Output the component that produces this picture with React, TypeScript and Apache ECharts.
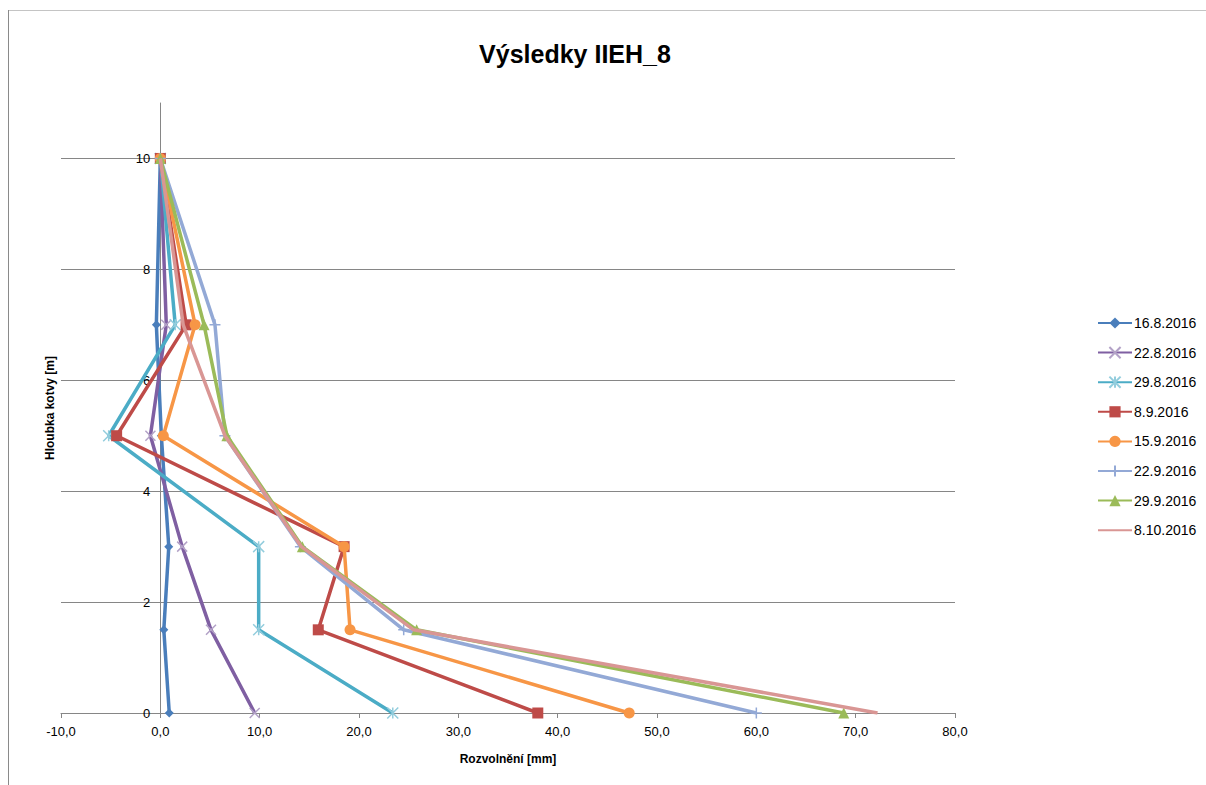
import React, { useEffect, useRef } from "react";
import * as echarts from "echarts";

const depths = [10, 7, 5, 3, 1.5, 0];
const seriesNames = ["16.8.2016", "22.8.2016", "29.8.2016", "8.9.2016", "15.9.2016", "22.9.2016", "29.9.2016", "8.10.2016"];
const s1608 = [0, -0.4, 0.1, 0.85, 0.35, 0.9];
const s2208 = [0, 0.6, -1.0, 2.2, 5.1, 9.5];
const s2908 = [0, 1.5, -5.2, 9.9, 9.9, 23.4];
const s0809 = [0, 2.6, -4.4, 18.5, 15.9, 38.0];
const s1509 = [0, 3.5, 0.3, 18.5, 19.1, 47.2];
const s2209 = [0, 5.5, 6.5, 14.1, 24.5, 60.0];
const s2909 = [0, 4.4, 6.7, 14.3, 25.8, 68.8];
const s0810 = [0, 2.3, 6.5, 14.2, 25.5, 72.2];
const allValues = [s1608, s2208, s2908, s0809, s1509, s2209, s2909, s0810];

const xMin = -10;
const xMax = 80;
const xTickStep = 10;
const yMin = 0;
const yMax = 11;
const yTickStep = 2;

const lineColors = ["#4A7EBB", "#7F5FA2", "#4BACC6", "#BE4B48", "#F79646", "#93A9D6", "#9BBB59", "#D99694"];
const markerColors = ["#4A7EBB", "#B3A2C7", "#93CDDD", "#BE4B48", "#F79646", "#93A9D6", "#9BBB59", "rgba(0,0,0,0)"];
const symbols = [
  "diamond",
  "path://M0,0L10,10M10,0L0,10",
  "path://M5,0L5,10M0,0L10,10M10,0L0,10",
  "rect",
  "circle",
  "path://M5,0L5,10M0,5L10,5",
  "triangle",
  "none",
];
const symbolSizes = [9, 10, 11, 11, 11, 11, 11, 0];
const strokeMarkers = [false, true, true, false, false, true, false, false];

const GRID_LEFT = 61;
const GRID_RIGHT = 251;
const WIDTH = 1206;

export default function App() {
  const ref = useRef<HTMLDivElement>(null);
  useEffect(() => {
    if (!ref.current) return;
    const chart = echarts.init(ref.current, null, { renderer: "svg" });
    const font = "Liberation Sans, Arial, sans-serif";
    const plotW = WIDTH - GRID_LEFT - GRID_RIGHT;
    const zeroOffset = ((0 - xMin) / (xMax - xMin)) * plotW;
    const series = seriesNames.map((name, i) => ({
      name,
      type: "line",
      data: allValues[i].map((v, j) => [v, depths[j]]),
      symbol: symbols[i],
      symbolSize: symbolSizes[i],
      showSymbol: symbols[i] !== "none",
      lineStyle: { color: lineColors[i], width: 3.5 },
      itemStyle: strokeMarkers[i]
        ? { color: "rgba(0,0,0,0)", borderColor: markerColors[i], borderWidth: 1.5 }
        : { color: markerColors[i], borderWidth: 0 },
      z: 2 + i,
    }));
    chart.setOption({
      animation: false,
      backgroundColor: "#ffffff",
      textStyle: { fontFamily: font },
      title: {
        text: "Výsledky IIEH_8",
        left: 575,
        top: 41,
        textAlign: "center",
        padding: 0,
        textStyle: { fontFamily: font, fontWeight: "bold", fontSize: 25, color: "#000" },
      },
      legend: {
        orient: "vertical",
        left: 1097,
        top: 316,
        padding: 0,
        itemWidth: 34,
        itemHeight: 14,
        itemGap: 15.6,
        data: seriesNames,
        textStyle: { fontFamily: font, fontSize: 14, color: "#000", padding: [0, 0, 0, -3] },
      },
      graphic: [
        { type: "line", shape: { x1: 8, y1: 10.5, x2: 1206, y2: 10.5 }, style: { stroke: "#c4c4c4", lineWidth: 1 } },
        { type: "line", shape: { x1: 8.5, y1: 10, x2: 8.5, y2: 785 }, style: { stroke: "#8a8a8a", lineWidth: 1 } },
      ],
      grid: { left: GRID_LEFT, right: GRID_RIGHT, top: 103, bottom: 72, containLabel: false, outerBoundsMode: "none" },
      xAxis: {
        type: "value",
        min: xMin,
        max: xMax,
        interval: xTickStep,
        name: "Rozvolnění [mm]",
        nameLocation: "middle",
        nameGap: 40,
        nameTextStyle: { fontFamily: font, fontSize: 12, fontWeight: "bold", color: "#000" },
        axisLine: { onZero: false, lineStyle: { color: "#868686", width: 1 } },
        axisTick: { show: true, length: 5, lineStyle: { color: "#868686" } },
        axisLabel: {
          margin: 12,
          fontFamily: font,
          fontSize: 13,
          color: "#000",
          formatter: (v: number) => v.toFixed(1).replace(".", ","),
        },
        splitLine: { show: false },
      },
      yAxis: {
        type: "value",
        min: yMin,
        max: yMax,
        interval: yTickStep,
        offset: -zeroOffset,
        name: "Hloubka kotvy [m]",
        nameLocation: "middle",
        nameGap: 104,
        nameRotate: 90,
        nameTextStyle: { fontFamily: font, fontSize: 12, fontWeight: "bold", color: "#000" },
        axisLine: { show: true, onZero: false, lineStyle: { color: "#868686", width: 1 } },
        axisTick: { show: false },
        axisLabel: {
          margin: 10,
          fontFamily: font,
          fontSize: 13,
          color: "#000",
          showMaxLabel: false,
          formatter: (v: number) => (v === yMax ? "" : String(v)),
        },
        splitLine: { show: true, showMinLine: false, showMaxLine: false, lineStyle: { color: "#868686", width: 1 } },
      },
      series,
    });
    return () => chart.dispose();
  }, []);
  return <div ref={ref} style={{ position: "fixed", left: 0, top: 0, width: 1206, height: 785 }} />;
}
